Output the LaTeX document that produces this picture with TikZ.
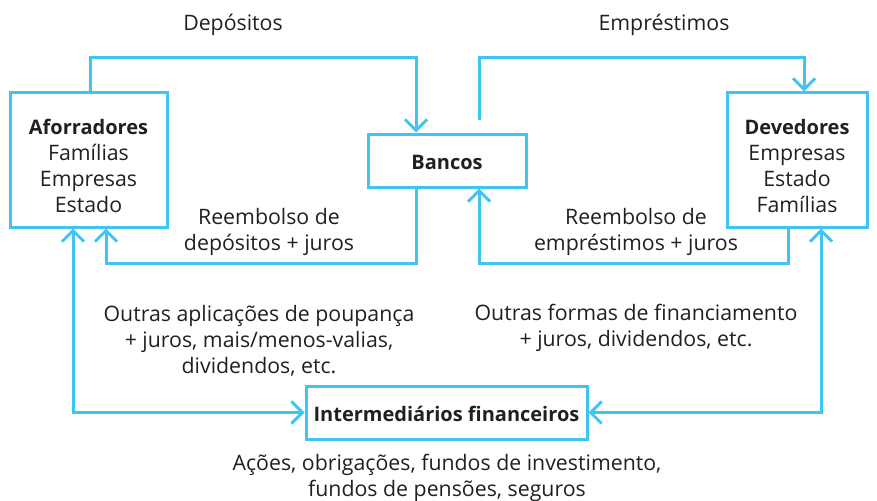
\documentclass[tikz,border=0pt]{standalone}
\usepackage{fontspec}
\setmainfont{Open Sans}
\usetikzlibrary{arrows.meta}
\definecolor{linec}{HTML}{41C4F0}
\definecolor{txt}{HTML}{231F20}
\newcommand{\hd}[1]{{\fontsize{20}{26}\selectfont\bfseries #1}}
\tikzset{
  box/.style={draw=linec, line width=3pt, align=center, text=txt, inner sep=0pt},
  lbl/.style={align=center, text=txt, inner sep=0pt},
  conn/.style={draw=linec, line width=3pt, -{Straight Barb[length=11pt,width=22pt,line width=3pt]}},
  conn2/.style={draw=linec, line width=3pt, {Straight Barb[length=11pt,width=22pt,line width=3pt]}-{Straight Barb[length=11pt,width=22pt,line width=3pt]}}
}
\begin{document}
\begin{tikzpicture}[x=1pt,y=-1pt, font=\fontsize{21.3}{26}\selectfont]
\useasboundingbox (0,0) rectangle (877,500);
\node[box, minimum width=157pt, minimum height=134pt] (aforr) at (88.5,160) {};
\node[lbl] (aforrT) at (88.5,166) {\hd{Aforradores}\\Famílias\\Empresas\\Estado};
\node[box, minimum width=158pt, minimum height=53pt] (bancos) at (447,160.5) {};
\node[lbl] (bancosT) at (447,162.5) {\hd{Bancos}};
\node[box, minimum width=140pt, minimum height=134pt] (dev) at (797,160) {};
\node[lbl] (devT) at (797,166) {\hd{Devedores}\\Empresas\\Estado\\Famílias};
\node[box, minimum width=281pt, minimum height=53pt] (inter) at (446.5,412.5) {};
\node[lbl] (interT) at (446.5,414) {\hd{Intermediários financeiros}};

\node[lbl] (ldep) at (233,25) {Depósitos};
\node[lbl] (lemp) at (664,25) {Empréstimos};
\node[lbl] (lrd) at (269,231.5) {Reembolso de\\depósitos + juros};
\node[lbl] (lre) at (636,231.5) {Reembolso de\\empréstimos + juros};
\node[lbl] (lout1) at (259,341) {Outras aplicações de poupança\\+ juros, mais/menos-valias,\\dividendos, etc.};
\node[lbl] (lout2) at (636,328) {Outras formas de financiamento\\+ juros, dividendos, etc.};
\node[lbl] (lacc) at (447,477.5) {Ações, obrigações, fundos de investimento,\\fundos de pensões, seguros};

\draw[conn] ([xshift=1.5pt]aforr.north) -- ++(0,-34) -| ([xshift=-31pt]bancos.north);
\draw[conn] ([xshift=32pt,yshift=13pt]bancos.north) -- ++(0,-62) -| ([xshift=7pt]dev.north);
\draw[conn] ([xshift=-31pt]bancos.south) -- ++(0,75) -| ([xshift=17.5pt]aforr.south);
\draw[conn] ([xshift=-9pt]dev.south) -- ++(0,35) -| ([xshift=32pt]bancos.south);
\draw[conn2] ([xshift=-15.5pt]aforr.south) |- (inter.west);
\draw[conn2] ([xshift=24pt]dev.south) |- (inter.east);
\end{tikzpicture}
\end{document}
